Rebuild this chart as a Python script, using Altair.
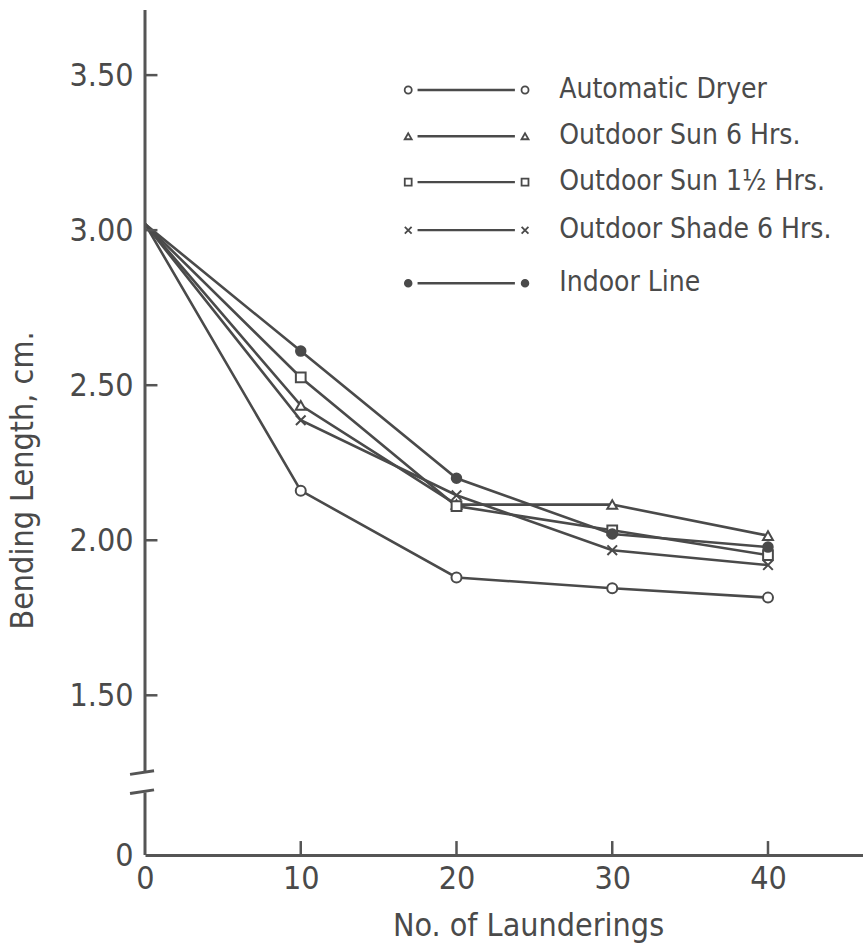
import altair as alt
import pandas as pd

# ---- data ----
launderings = [0, 10, 20, 30, 40]
series_names = ["Automatic Dryer", "Outdoor Sun 6 Hrs.", "Outdoor Sun 1½ Hrs.",
                "Outdoor Shade 6 Hrs.", "Indoor Line"]
automatic_dryer = [3.02, 2.16, 1.88, 1.845, 1.815]
outdoor_sun_6 = [3.02, 2.435, 2.115, 2.115, 2.015]
outdoor_sun_15 = [3.02, 2.525, 2.11, 2.032, 1.952]
outdoor_shade_6 = [3.02, 2.387, 2.145, 1.968, 1.92]
indoor_line = [3.02, 2.61, 2.20, 2.02, 1.978]
all_values = [automatic_dryer, outdoor_sun_6, outdoor_sun_15, outdoor_shade_6, indoor_line]

y_ticks = [0.985, 1.5, 2.0, 2.5, 3.0, 3.5]
x_ticks = [10, 20, 30, 40]

# ---- styles ----
FONT = "Liberation Sans Narrow, DejaVu Sans Condensed, sans-serif"
INK = "#4a4a4a"
shapes = ["circle", "triangle-up", "square", "M-1,-1L1,1M-1,1L1,-1", "circle"]
fills = ["white", "white", "white", "white", INK]
sizes = [100, 90, 75, 55, 22]
legend_sizes = [50, 45, 40, 35, 12]

rows = []
for name, vals in zip(series_names, all_values):
    for x, y in zip(launderings, vals):
        rows.append({"series": name, "x": x, "y": y})
df = pd.DataFrame(rows)
df_pts = df[df.x > 0]

X_DOM = [0, 46.1]
Y_DOM = [0.985, 3.71]
xs = alt.Scale(domain=X_DOM, nice=False, zero=False)
ys = alt.Scale(domain=Y_DOM, nice=False, zero=False)

shape_scale = alt.Scale(domain=series_names, range=shapes)
fill_scale = alt.Scale(domain=series_names, range=fills)
size_scale = alt.Scale(domain=series_names, range=sizes)
lsize_scale = alt.Scale(domain=series_names, range=legend_sizes)

x_axis = alt.Axis(values=[0] + x_ticks, ticks=False, grid=False, domainWidth=3,
                  domainColor="#555", labelFont=FONT, labelFontSize=32, labelColor=INK,
                  labelPadding=8, labelFlush=False, labelOverlap=False,
                  title="No. of Launderings", titleFont=FONT, titleFontSize=32,
                  titleFontWeight="normal", titleColor=INK, titleX=383, titleY=70,
                  titleBaseline="middle", titleAlign="center")
y_axis = alt.Axis(values=y_ticks, ticks=False, grid=False, domain=False,
                  labelExpr="datum.value < 1.2 ? '0' : format(datum.value, '.2f')",
                  labelFont=FONT, labelFontSize=32, labelColor=INK, labelPadding=12,
                  labelFlush=False, labelOverlap=False,
                  title="Bending Length, cm.", titleFont=FONT, titleFontSize=32,
                  titleFontWeight="normal", titleColor=INK, titleX=-123, titleY=470,
                  titleAngle=270, titleAlign="center", titleBaseline="middle")


def X(field="x:Q"):
    return alt.X(field, scale=xs, axis=x_axis)


def Y(field="y:Q"):
    return alt.Y(field, scale=ys, axis=y_axis)


# main lines
lines = alt.Chart(df).mark_line(color=INK, strokeWidth=2.6).encode(
    x=X(), y=Y(), detail="series:N",
)

points = alt.Chart(df_pts).mark_point(color=INK, strokeWidth=2, opacity=1).encode(
    x=X(), y=Y(),
    shape=alt.Shape("series:N", scale=shape_scale, legend=None),
    fill=alt.Fill("series:N", scale=fill_scale, legend=None),
    size=alt.Size("series:N", scale=size_scale, legend=None),
)

# broken y axis line and its break caps (data units)
axis_segs = pd.DataFrame({
    "x": [0, 0, -0.96, -0.96],
    "x2": [0, 0, 0.58, 0.58],
    "y": [0.985, 1.25, 1.245, 1.183],
    "y2": [1.187, 3.71, 1.257, 1.195],
})
axis_rules = alt.Chart(axis_segs).mark_rule(color="#555", strokeWidth=3).encode(
    x=X(), x2="x2:Q", y=Y(), y2="y2:Q",
)

# inward tick marks
tick_df = pd.DataFrame(
    [{"x": t, "x2": t, "y": Y_DOM[0], "y2": Y_DOM[0] + 0.045} for t in x_ticks]
    + [{"x": 0, "x2": 0.8, "y": t, "y2": t} for t in y_ticks[1:]]
)
tick_rules = alt.Chart(tick_df).mark_rule(color="#555", strokeWidth=2.5).encode(
    x=X(), x2="x2:Q", y=Y(), y2="y2:Q",
)

# hand-drawn style legend placed in data space
legend_y = [3.452, 3.303, 3.155, 3.0, 2.829]
leg_lines_df = pd.DataFrame({"series": series_names, "y": legend_y,
                             "x": [17.5] * 5, "x2": [23.75] * 5})
leg_pts_df = pd.DataFrame(
    [{"series": s, "y": yv, "x": xv} for s, yv in zip(series_names, legend_y) for xv in (16.9, 24.4)]
)
leg_txt_df = pd.DataFrame({"series": series_names, "y": legend_y, "x": [26.6] * 5})

leg_lines = alt.Chart(leg_lines_df).mark_rule(color=INK, strokeWidth=2.4).encode(
    x=X(), x2="x2:Q", y=Y(),
)
leg_pts = alt.Chart(leg_pts_df).mark_point(color=INK, strokeWidth=1.8, opacity=1).encode(
    x=X(), y=Y(),
    shape=alt.Shape("series:N", scale=shape_scale, legend=None),
    fill=alt.Fill("series:N", scale=fill_scale, legend=None),
    size=alt.Size("series:N", scale=lsize_scale, legend=None),
)
leg_txt = alt.Chart(leg_txt_df).mark_text(align="left", baseline="middle", font=FONT,
                                          fontSize=28, color=INK).encode(
    x=X(), y=Y(), text="series:N",
)

chart = alt.layer(lines, axis_rules, tick_rules, points, leg_lines, leg_pts, leg_txt).resolve_scale(
    shape="independent", fill="independent", size="independent"
).properties(
    width=718, height=845,
    autosize=alt.AutoSizeParams(type="none"),
    padding={"left": 145, "top": 10, "right": 0, "bottom": 88},
    background="white",
).configure_view(stroke=None)

chart.save("out.html", embed_options={"renderer": "svg", "actions": False})
